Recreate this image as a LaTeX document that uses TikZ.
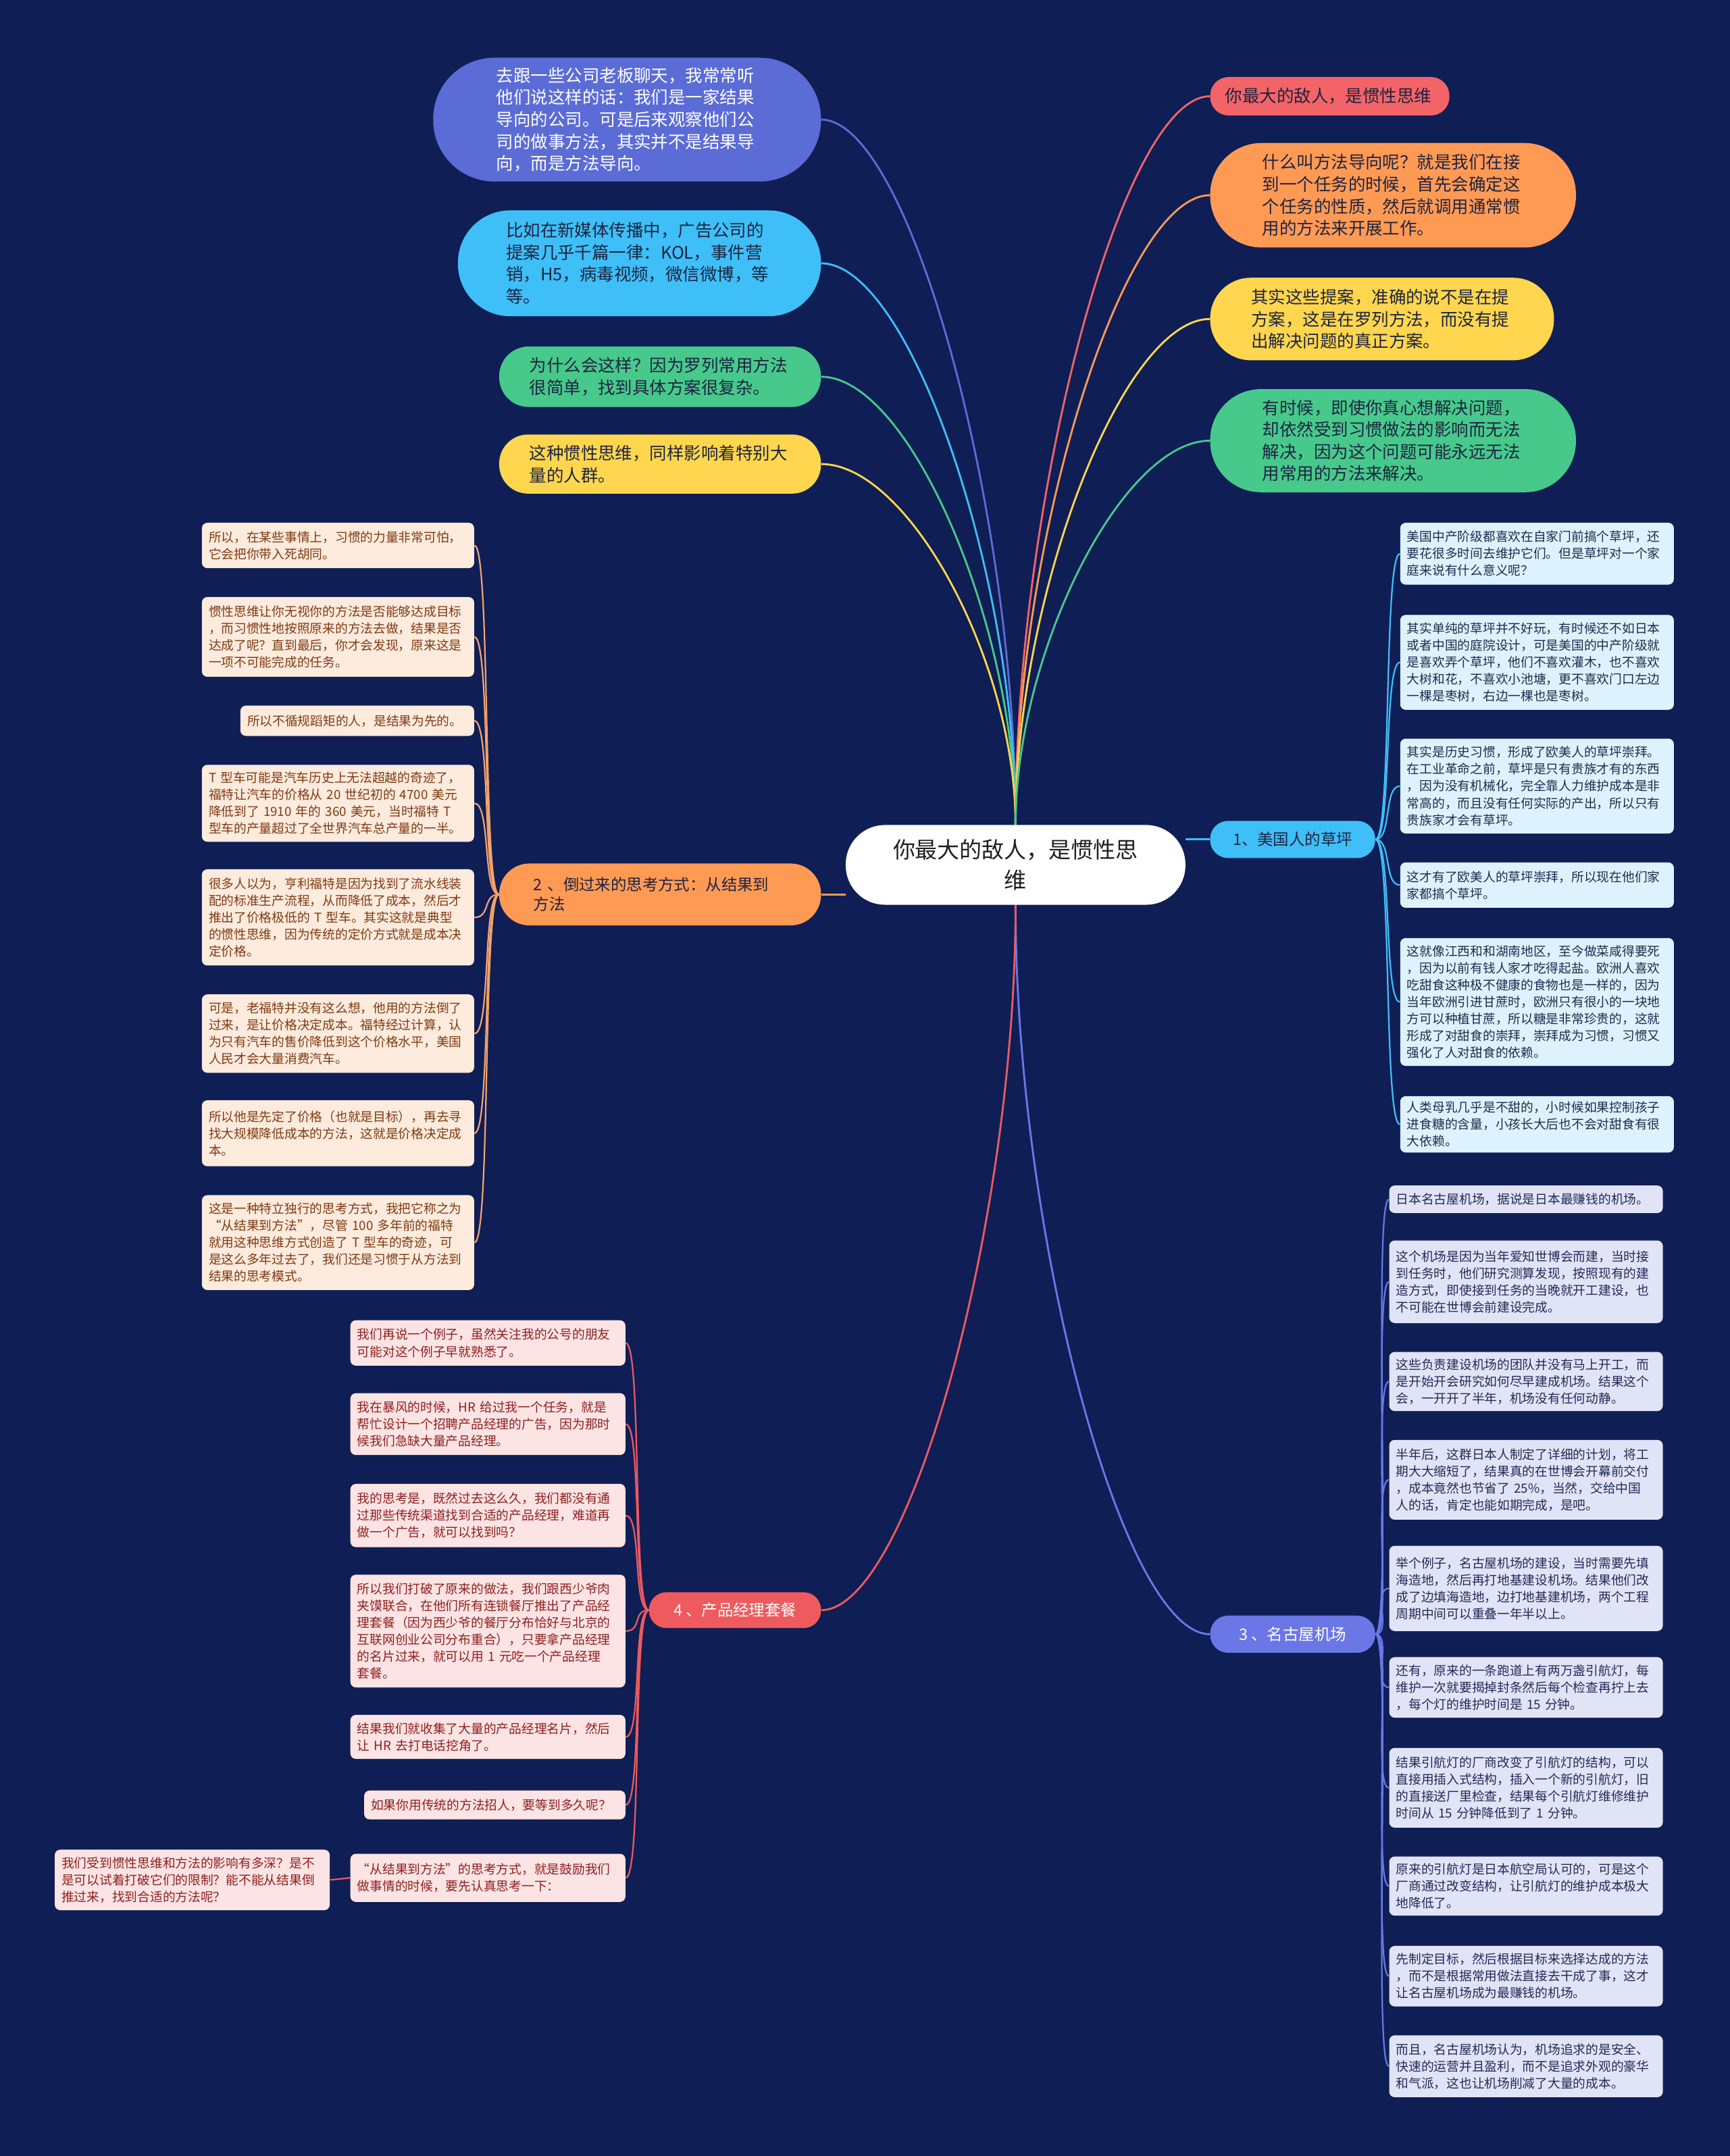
\documentclass[tikz,border=0pt]{standalone}
\usepackage{fontspec}
\setmainfont{Noto Sans CJK SC}
\usetikzlibrary{calc}
\pgfdeclarelayer{bglayer}
\pgfdeclarelayer{lines}
\pgfsetlayers{bglayer,lines,main}
\definecolor{bgc}{HTML}{0F1E55}
\definecolor{cPurple}{HTML}{5B6CD6}
\definecolor{cSky}{HTML}{3EBFF8}
\definecolor{cGreen}{HTML}{47C98B}
\definecolor{cYellow}{HTML}{FFD64D}
\definecolor{cCoral}{HTML}{F26468}
\definecolor{cOrange}{HTML}{FF9A55}
\definecolor{cIndigo}{HTML}{6B77E6}
\definecolor{cRed}{HTML}{EE5A5E}
\definecolor{cDark}{HTML}{1E2340}
\definecolor{lnB}{HTML}{F2A26C}
\definecolor{fA}{HTML}{DDF2FC}
\definecolor{tA}{HTML}{1F2B4D}
\definecolor{fB}{HTML}{FDEBDD}
\definecolor{tB}{HTML}{7F3A12}
\definecolor{fC}{HTML}{E1E4F7}
\definecolor{tC}{HTML}{232A55}
\definecolor{fD}{HTML}{FDE4E4}
\definecolor{tD}{HTML}{8E1F1F}
\tikzset{
  rootnode/.style={align=center, fill=white, text=black!88, font=\fontsize{16.2}{22}\selectfont, inner sep=0pt},
  bub/.style={align=left, font=\fontsize{12.5}{16}\selectfont, inner sep=0pt},
  brnode/.style={font=\fontsize{11.5}{14.5}\selectfont, inner sep=0pt},
  leaf/.style={rounded corners=4pt, inner xsep=5pt, inner ysep=1pt, align=left, font=\fontsize{9.2}{12.3}\selectfont},
  lfA/.style={leaf, anchor=north west, fill=fA, text=tA},
  lfB/.style={leaf, anchor=north east, fill=fB, text=tB},
  lfC/.style={leaf, anchor=north west, fill=fC, text=tC},
  lfD/.style={leaf, anchor=north east, fill=fD, text=tD},
  mline/.style={line width=1.4pt},
  lline/.style={line width=1.1pt},
  vcurve/.style={to path={let \p1=(\tikztostart), \p2=(\tikztotarget) in .. controls (\x1,{\y2+0.55*(\y1-\y2)}) and ({\x2+0.45*(\x1-\x2)},\y2) .. (\tikztotarget)}},
  lfr/.style={to path={.. controls +(12,0) and +(-12,0) .. (\tikztotarget)}},
  lfl/.style={to path={.. controls +(-12,0) and +(12,0) .. (\tikztotarget)}},
}
\begin{document}
\begin{tikzpicture}[x=1pt,y=-1pt]
\useasboundingbox (0,0) rectangle (1258,1568);
\begin{pgfonlayer}{bglayer}
\fill[bgc] (0,0) rectangle (1258,1568);
\end{pgfonlayer}

% root
\node[rootnode, minimum width=247pt, minimum height=58pt, rounded corners=28.5pt] (c) at (738.5,629) {你最大的敌人，是惯性思\\维};

% top-left bubbles
\node[bub, fill=cPurple, text=white, text width=190pt, minimum width=282pt, minimum height=90pt, rounded corners=44.5pt] (L1) at (456,87) {去跟一些公司老板聊天，我常常听\\他们说这样的话：我们是一家结果\\导向的公司。可是后来观察他们公\\司的做事方法，其实并不是结果导\\向，而是方法导向。};
\node[bub, fill=cSky, text=cDark, text width=194pt, minimum width=264pt, minimum height=77pt, rounded corners=38pt] (L2) at (465,191.5) {比如在新媒体传播中，广告公司的\\提案几乎千篇一律：KOL，事件营\\销，H5，病毒视频，微信微博，等\\等。};
\node[bub, fill=cGreen, text=cDark, text width=190pt, minimum width=234pt, minimum height=44pt, rounded corners=21.5pt] (L3) at (480,274) {为什么会这样？因为罗列常用方法\\很简单，找到具体方案很复杂。};
\node[bub, fill=cYellow, text=cDark, text width=190pt, minimum width=234pt, minimum height=43pt, rounded corners=21pt] (L4) at (480,337.5) {这种惯性思维，同样影响着特别大\\量的人群。};

% top-right bubbles
\node[bub, fill=cCoral, text=cDark, text width=152pt, minimum width=174pt, minimum height=28pt, rounded corners=13.5pt] (R1) at (967,70) {你最大的敌人，是惯性思维};
\node[bub, fill=cOrange, text=cDark, text width=190pt, minimum width=266pt, minimum height=76pt, rounded corners=37.5pt] (R2) at (1013,142) {什么叫方法导向呢？就是我们在接\\到一个任务的时候，首先会确定这\\个任务的性质，然后就调用通常惯\\用的方法来开展工作。};
\node[bub, fill=cYellow, text=cDark, text width=190pt, minimum width=250pt, minimum height=60pt, rounded corners=29.5pt] (R3) at (1005,232) {其实这些提案，准确的说不是在提\\方案，这是在罗列方法，而没有提\\出解决问题的真正方案。};
\node[bub, fill=cGreen, text=cDark, text width=190pt, minimum width=266pt, minimum height=75pt, rounded corners=37pt] (R4) at (1013,320.5) {有时候，即使你真心想解决问题，\\却依然受到习惯做法的影响而无法\\解决，因为这个问题可能永远无法\\用常用的方法来解决。};

% branch nodes
\node[brnode, align=center, fill=cSky, text=cDark, minimum width=120pt, minimum height=27pt, rounded corners=13pt] (N1) at (940,610.5) {1、美国人的草坪};
\node[brnode, align=left, fill=cOrange, text=cDark, text width=184pt, minimum width=234pt, minimum height=45pt, rounded corners=22pt] (N2) at (480,650.5) {2 、倒过来的思考方式：从结果到\\方法};
\node[brnode, align=center, fill=cIndigo, text=white, minimum width=120pt, minimum height=27pt, rounded corners=13pt] (N3) at (940,1188.5) {3 、名古屋机场};
\node[brnode, align=center, fill=cRed, text=white, minimum width=125pt, minimum height=26pt, rounded corners=12.5pt] (N4) at (534.5,1171) {4 、产品经理套餐};

% branch 1 leaves
\node[lfA, text width=189pt, minimum height=45pt] (A1) at (1018,380) {美国中产阶级都喜欢在自家门前搞个草坪，还\\要花很多时间去维护它们。但是草坪对一个家\\庭来说有什么意义呢？};
\node[lfA, text width=189pt, minimum height=69pt] (A2) at (1018,447) {其实单纯的草坪并不好玩，有时候还不如日本\\或者中国的庭院设计，可是美国的中产阶级就\\是喜欢弄个草坪，他们不喜欢灌木，也不喜欢\\大树和花，不喜欢小池塘，更不喜欢门口左边\\一棵是枣树，右边一棵也是枣树。};
\node[lfA, text width=189pt, minimum height=69pt] (A3) at (1018,537) {其实是历史习惯，形成了欧美人的草坪崇拜。\\在工业革命之前，草坪是只有贵族才有的东西\\，因为没有机械化，完全靠人力维护成本是非\\常高的，而且没有任何实际的产出，所以只有\\贵族家才会有草坪。};
\node[lfA, text width=189pt, minimum height=33pt] (A4) at (1018,627) {这才有了欧美人的草坪崇拜，所以现在他们家\\家都搞个草坪。};
\node[lfA, text width=189pt, minimum height=93pt] (A5) at (1018,682) {这就像江西和和湖南地区，至今做菜咸得要死\\，因为以前有钱人家才吃得起盐。欧洲人喜欢\\吃甜食这种极不健康的食物也是一样的，因为\\当年欧洲引进甘蔗时，欧洲只有很小的一块地\\方可以种植甘蔗，所以糖是非常珍贵的，这就\\形成了对甜食的崇拜，崇拜成为习惯，习惯又\\强化了人对甜食的依赖。};
\node[lfA, text width=189pt, minimum height=41pt] (A6) at (1018,797) {人类母乳几乎是不甜的，小时候如果控制孩子\\进食糖的含量，小孩长大后也不会对甜食有很\\大依赖。};

% branch 2 leaves
\node[lfB, text width=188pt, minimum height=33pt] (B1) at (345,380) {所以，在某些事情上，习惯的力量非常可怕，\\它会把你带入死胡同。};
\node[lfB, text width=188pt, minimum height=58pt] (B2) at (345,434) {惯性思维让你无视你的方法是否能够达成目标\\，而习惯性地按照原来的方法去做，结果是否\\达成了呢？直到最后，你才会发现，原来这是\\一项不可能完成的任务。};
\node[lfB, text width=160pt, minimum height=22pt] (B3) at (345,513) {所以不循规蹈矩的人，是结果为先的。};
\node[lfB, text width=188pt, minimum height=56pt] (B4) at (345,556) {T 型车可能是汽车历史上无法超越的奇迹了，\\福特让汽车的价格从 20 世纪初的 4700 美元\\降低到了 1910 年的 360 美元，当时福特 T\\型车的产量超过了全世界汽车总产量的一半。};
\node[lfB, text width=188pt, minimum height=70pt] (B5) at (345,632) {很多人以为，亨利福特是因为找到了流水线装\\配的标准生产流程，从而降低了成本，然后才\\推出了价格极低的 T 型车。其实这就是典型\\的惯性思维，因为传统的定价方式就是成本决\\定价格。};
\node[lfB, text width=188pt, minimum height=57pt] (B6) at (345,723) {可是，老福特并没有这么想，他用的方法倒了\\过来，是让价格决定成本。福特经过计算，认\\为只有汽车的售价降低到这个价格水平，美国\\人民才会大量消费汽车。};
\node[lfB, text width=188pt, minimum height=48pt] (B7) at (345,800) {所以他是先定了价格（也就是目标），再去寻\\找大规模降低成本的方法，这就是价格决定成\\本。};
\node[lfB, text width=188pt, minimum height=69pt] (B8) at (345,869) {这是一种特立独行的思考方式，我把它称之为\\“从结果到方法”，尽管 100 多年前的福特\\就用这种思维方式创造了 T 型车的奇迹，可\\是这么多年过去了，我们还是习惯于从方法到\\结果的思考模式。};

% branch 3 leaves
\node[lfC, text width=189pt, minimum height=20pt] (C1) at (1010,862) {日本名古屋机场，据说是日本最赚钱的机场。};
\node[lfC, text width=189pt, minimum height=60pt] (C2) at (1010,902) {这个机场是因为当年爱知世博会而建，当时接\\到任务时，他们研究测算发现，按照现有的建\\造方式，即使接到任务的当晚就开工建设，也\\不可能在世博会前建设完成。};
\node[lfC, text width=189pt, minimum height=43pt] (C3) at (1010,983) {这些负责建设机场的团队并没有马上开工，而\\是开始开会研究如何尽早建成机场。结果这个\\会，一开开了半年，机场没有任何动静。};
\node[lfC, text width=189pt, minimum height=58pt] (C4) at (1010,1047) {半年后，这群日本人制定了详细的计划，将工\\期大大缩短了，结果真的在世博会开幕前交付\\，成本竟然也节省了 25\%，当然，交给中国\\人的话，肯定也能如期完成，是吧。};
\node[lfC, text width=189pt, minimum height=62pt] (C5) at (1010,1124) {举个例子，名古屋机场的建设，当时需要先填\\海造地，然后再打地基建设机场。结果他们改\\成了边填海造地，边打地基建机场，两个工程\\周期中间可以重叠一年半以上。};
\node[lfC, text width=189pt, minimum height=44pt] (C6) at (1010,1205) {还有，原来的一条跑道上有两万盏引航灯，每\\维护一次就要揭掉封条然后每个检查再拧上去\\，每个灯的维护时间是 15 分钟。};
\node[lfC, text width=189pt, minimum height=58pt] (C7) at (1010,1271) {结果引航灯的厂商改变了引航灯的结构，可以\\直接用插入式结构，插入一个新的引航灯，旧\\的直接送厂里检查，结果每个引航灯维修维护\\时间从 15 分钟降低到了 1 分钟。};
\node[lfC, text width=189pt, minimum height=43pt] (C8) at (1010,1350) {原来的引航灯是日本航空局认可的，可是这个\\厂商通过改变结构，让引航灯的维护成本极大\\地降低了。};
\node[lfC, text width=189pt, minimum height=44pt] (C9) at (1010,1415) {先制定目标，然后根据目标来选择达成的方法\\，而不是根据常用做法直接去干成了事，这才\\让名古屋机场成为最赚钱的机场。};
\node[lfC, text width=189pt, minimum height=45pt] (C10) at (1010,1480) {而且，名古屋机场认为，机场追求的是安全、\\快速的运营并且盈利，而不是追求外观的豪华\\和气派，这也让机场削减了大量的成本。};

% branch 4 leaves
\node[lfD, text width=190pt, minimum height=33pt] (D1) at (455,960) {我们再说一个例子，虽然关注我的公号的朋友\\可能对这个例子早就熟悉了。};
\node[lfD, text width=190pt, minimum height=45pt] (D2) at (455,1013) {我在暴风的时候，HR 给过我一个任务，就是\\帮忙设计一个招聘产品经理的广告，因为那时\\候我们急缺大量产品经理。};
\node[lfD, text width=190pt, minimum height=46pt] (D3) at (455,1079) {我的思考是，既然过去这么久，我们都没有通\\过那些传统渠道找到合适的产品经理，难道再\\做一个广告，就可以找到吗？};
\node[lfD, text width=190pt, minimum height=82pt] (D4) at (455,1145) {所以我们打破了原来的做法，我们跟西少爷肉\\夹馍联合，在他们所有连锁餐厅推出了产品经\\理套餐（因为西少爷的餐厅分布恰好与北京的\\互联网创业公司分布重合），只要拿产品经理\\的名片过来，就可以用 1 元吃一个产品经理\\套餐。};
\node[lfD, text width=190pt, minimum height=32pt] (D5) at (455,1247) {结果我们就收集了大量的产品经理名片，然后\\让 HR 去打电话挖角了。};
\node[lfD, text width=180pt, minimum height=21pt] (D6) at (455,1302) {如果你用传统的方法招人，要等到多久呢？};
\node[lfD, text width=190pt, minimum height=35pt] (D7) at (455,1348) {“从结果到方法”的思考方式，就是鼓励我们\\做事情的时候，要先认真思考一下：};
\node[lfD, text width=190pt, minimum height=44pt] (D8) at (240,1345) {我们受到惯性思维和方法的影响有多深？是不\\是可以试着打破它们的限制？能不能从结果倒\\推过来，找到合适的方法呢？};

\begin{pgfonlayer}{lines}
% root to bubbles
\draw[mline, cPurple] (c.north) to[vcurve] (L1.east);
\draw[mline, cSky] (c.north) to[vcurve] (L2.east);
\draw[mline, cGreen] (c.north) to[vcurve] (L3.east);
\draw[mline, cYellow] (c.north) to[vcurve] (L4.east);
\draw[mline, cCoral] (c.north) to[vcurve] (R1.west);
\draw[mline, cOrange] (c.north) to[vcurve] (R2.west);
\draw[mline, cYellow] (c.north) to[vcurve] (R3.west);
\draw[mline, cGreen] (c.north) to[vcurve] (R4.west);
% root to branches
\draw[mline, cSky] (c.east |- N1.west) -- (N1.west);
\draw[mline, cOrange] (N2.east) -- (c.west |- N2.east);
\draw[mline, cIndigo] (c.south) to[vcurve] (N3.west);
\draw[mline, cRed] (c.south) to[vcurve] (N4.east);
% branch 1
\foreach \n in {A1,A2,A3,A4,A5,A6} \draw[lline, cSky] (N1.east) to[lfr] (\n.west);
% branch 2
\foreach \n in {B1,B2,B3,B4,B5,B6,B7,B8} \draw[lline, lnB] (N2.west) to[lfl] (\n.east);
% branch 3
\foreach \n in {C1,C2,C3,C4,C5,C6,C7,C8,C9,C10} \draw[lline, cIndigo] (N3.east) to[lfr] (\n.west);
% branch 4
\foreach \n in {D1,D2,D3,D4,D5,D6,D7} \draw[lline, cRed] (N4.west) to[lfl] (\n.east);
\draw[lline, cRed] (D7.west) -- (D8.east);
\end{pgfonlayer}
\end{tikzpicture}
\end{document}
